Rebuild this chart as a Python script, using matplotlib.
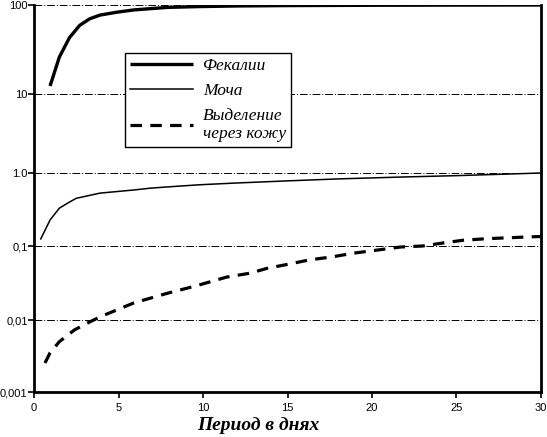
import matplotlib
matplotlib.use("Agg")
import matplotlib.pyplot as plt
import numpy as np

# Data
days_feces = [0.95, 1.5, 2.1, 2.7, 3.3, 3.9, 4.9, 5.9, 6.9, 7.9, 9.8, 12, 15, 20, 25, 30]
feces = [12.3, 26, 43, 59, 70, 77, 83, 88, 91, 94, 96, 97.5, 98.5, 99.3, 99.7, 100]

days_urine = [0.4, 0.95, 1.5, 2.1, 2.5, 3.9, 5.9, 6.9, 7.9, 9.8, 12, 15, 18, 21.7, 25, 30]
urine = [0.125, 0.227, 0.33, 0.40, 0.45, 0.53, 0.585, 0.62, 0.645, 0.69, 0.73, 0.78, 0.83, 0.88, 0.92, 1.0]

days_skin = [0.65, 0.95, 1.5, 2.4, 3.3, 3.9, 5.9, 7.9, 9.6, 11.4, 12.8, 13.8, 15.1, 16.3,
             17.6, 18.9, 20.3, 21.7, 23, 24.2, 25.4, 26.8, 29.2, 30]
skin = [0.00253, 0.0035, 0.005, 0.0073, 0.0094, 0.011, 0.017, 0.023, 0.029, 0.038, 0.043,
        0.05, 0.057, 0.065, 0.071, 0.08, 0.088, 0.097, 0.10, 0.11, 0.12, 0.126, 0.133, 0.135]

series_labels = ["Фекалии", "Моча", "Выделение\nчерез кожу"]
x_ticks = [0, 5, 10, 15, 20, 25, 30]
y_ticks = [0.001, 0.01, 0.1, 1.0, 10, 100]
y_tick_labels = ["0,001", "0,01", "0,1", "1.0", "10", "100"]
x_label = "Период в днях"

# The printed log axis has slightly unequal decades; piecewise log scale
_dec = np.array([-3.0, -2.0, -1.0, 0.0, 1.0, 2.0])
_pos = np.array([0.0, 72.0, 146.0, 219.0, 298.0, 387.0])


def _fwd(y):
    y = np.asarray(y, dtype=float)
    ly = np.log10(np.clip(y, 1e-12, None))
    return np.where(ly < _dec[0], _pos[0] + (ly - _dec[0]) * 72.0,
                    np.where(ly > _dec[-1], _pos[-1] + (ly - _dec[-1]) * 89.0,
                             np.interp(ly, _dec, _pos)))


def _inv(p):
    p = np.asarray(p, dtype=float)
    ly = np.where(p < _pos[0], _dec[0] + (p - _pos[0]) / 72.0,
                  np.where(p > _pos[-1], _dec[-1] + (p - _pos[-1]) / 89.0,
                           np.interp(p, _pos, _dec)))
    return 10 ** ly


W, H = 547, 437
fig = plt.figure(figsize=(W / 100, H / 100), dpi=100)
ax = fig.add_axes([34 / W, (H - 392) / H, (541 - 34) / W, (392 - 5) / H])

ax.set_yscale("function", functions=(_fwd, _inv))
ax.set_xlim(0, 30)
ax.set_ylim(0.001, 100)

for yv in [0.01, 0.1, 1.0, 10, 100]:
    ax.axhline(yv, color="black", lw=0.7, ls=(0, (8, 2, 1, 2)), zorder=1)

l1, = ax.plot(days_feces, feces, color="black", lw=2.4, solid_capstyle="butt", zorder=3)
l2, = ax.plot(days_urine, urine, color="black", lw=1.1, zorder=3)
l3, = ax.plot(days_skin, skin, color="black", lw=2.3, dashes=(3.6, 2.6), zorder=3)

leg = ax.legend([l1, l2, l3], series_labels, loc="upper left",
                bbox_to_anchor=((125 - 34) / (541 - 34), 1 - (53 - 5) / (392 - 5)),
                frameon=True, fancybox=False, edgecolor="black", framealpha=1,
                handlelength=3.6, handletextpad=0.6, labelspacing=0.5,
                borderpad=0.3, borderaxespad=0,
                prop={"family": "Liberation Serif", "style": "italic", "size": 12.5})
leg.get_frame().set_linewidth(1.0)

ax.set_xticks(x_ticks)
ax.set_xticklabels([str(v) for v in x_ticks])
ax.set_yticks(y_ticks)
ax.set_yticklabels(y_tick_labels)
ax.yaxis.set_minor_locator(matplotlib.ticker.NullLocator())

for lab in ax.get_xticklabels() + ax.get_yticklabels():
    lab.set_fontfamily("Liberation Sans")
    lab.set_fontsize(8)

ax.tick_params(axis="both", direction="out", length=4, width=1.2, colors="black")
ax.tick_params(axis="y", pad=0.5)
ax.tick_params(axis="x", pad=4)

ax.spines["top"].set_visible(False)
for s in ["left", "bottom", "right"]:
    ax.spines[s].set_linewidth(2)

ax.set_xlabel(x_label, fontfamily="Liberation Serif", fontstyle="italic",
              fontweight="bold", fontsize=14)
ax.xaxis.set_label_coords((258 - 34) / (541 - 34), -(425 - 392) / (392 - 5), transform=ax.transAxes)
ax.xaxis.label.set_verticalalignment("center")

fig.savefig("out.png", dpi=100)
